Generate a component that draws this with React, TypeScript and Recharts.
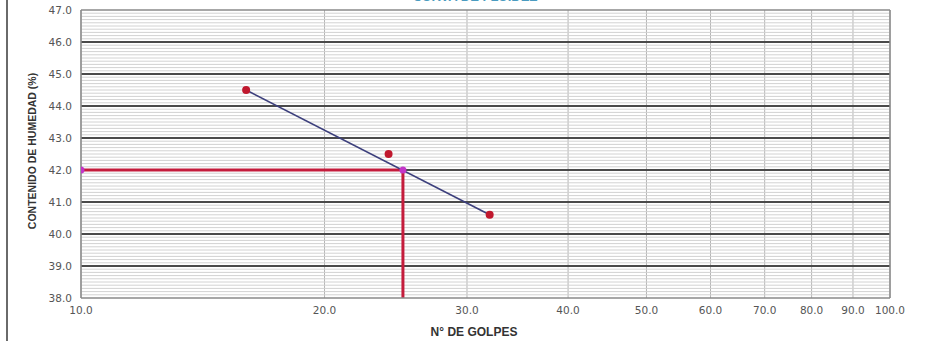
import React from "react";
import {
  ScatterChart,
  Scatter,
  XAxis,
  YAxis,
  CartesianGrid,
  ReferenceLine,
} from "recharts";

// ensayos: número de golpes vs contenido de humedad
const golpes = [16, 24, 32];
const humedad = [44.5, 42.5, 40.6];

// recta de ajuste (extremos)
const trendGolpes = [16, 32];
const trendHumedad = [44.5, 40.6];

// lectura a 25 golpes
const golpesLectura = 25;
const humedadLectura = 42.0;

const xTicks = [10, 20, 30, 40, 50, 60, 70, 80, 90, 100];
const yTicks = [38, 39, 40, 41, 42, 43, 44, 45, 46, 47];
const yMajorInner = [39, 40, 41, 42, 43, 44, 45, 46];

const points = golpes.map((x, i) => ({ x, y: humedad[i] }));
const trend = trendGolpes.map((x, i) => ({ x, y: trendHumedad[i] }));
const lectura = [
  { x: 10, y: humedadLectura },
  { x: golpesLectura, y: humedadLectura },
];

// líneas menores cada 0.1
const yMinor: number[] = [];
for (let v = 381; v < 470; v++) {
  if (v % 10 !== 0) yMinor.push(v / 10);
}

const W = 947;
const H = 341;

export default function App() {
  return (
    <div style={{ position: "absolute", left: 0, top: 0, width: W, height: H, background: "#fff" }}>
      <ScatterChart width={W} height={H} margin={{ top: 10, right: 57, bottom: 13, left: 0 }}>
        {yMinor.map((v) => (
          <ReferenceLine key={`m${v}`} y={v} stroke="#d2d2d2" strokeWidth={1} />
        ))}
        <CartesianGrid
          horizontal={false}
          verticalValues={xTicks}
          stroke="#b4b4b4"
          strokeWidth={1}
        />
        {yMajorInner.map((v) => (
          <ReferenceLine key={`M${v}`} y={v} stroke="#4a4a4a" strokeWidth={2} />
        ))}
        <ReferenceLine y={47} stroke="#8a8a8a" strokeWidth={1.5} />
        <ReferenceLine x={100} stroke="#8a8a8a" strokeWidth={1.5} />
        <XAxis
          dataKey="x"
          type="number"
          scale="log"
          domain={[10, 100]}
          ticks={xTicks}
          allowDataOverflow
          height={30}
          tickLine={false}
          tickSize={0}
          tickMargin={9}
          axisLine={{ stroke: "#8a8a8a", strokeWidth: 1.5 }}
          tickFormatter={(v: number) => v.toFixed(1)}
          tick={{ fill: "#555", fontSize: 10.5, fontFamily: "DejaVu Sans" }}
        />
        <YAxis
          dataKey="y"
          type="number"
          domain={[38, 47]}
          ticks={yTicks}
          allowDataOverflow
          width={81}
          tickLine={false}
          tickSize={0}
          tickMargin={9}
          axisLine={{ stroke: "#8a8a8a", strokeWidth: 1.5 }}
          tickFormatter={(v: number) => v.toFixed(1)}
          tick={{ fill: "#555", fontSize: 10.5, fontFamily: "DejaVu Sans" }}
        />
        <ReferenceLine
          segment={[
            { x: 10, y: humedadLectura },
            { x: golpesLectura, y: humedadLectura },
          ]}
          stroke="#c41c3c"
          strokeWidth={3}
        />
        <ReferenceLine
          segment={[
            { x: golpesLectura, y: humedadLectura },
            { x: golpesLectura, y: 38 },
          ]}
          stroke="#c41c3c"
          strokeWidth={3}
        />
        <Scatter
          data={trend}
          isAnimationActive={false}
          line={{ stroke: "#3c3f7c", strokeWidth: 1.6 }}
          shape={() => <g />}
        />
        <Scatter
          data={points}
          isAnimationActive={false}
          shape={(p: any) => <circle cx={p.cx} cy={p.cy} r={4} fill="#c0182e" />}
        />
        <Scatter
          data={lectura}
          isAnimationActive={false}
          shape={(p: any) => <circle cx={p.cx} cy={p.cy} r={3.5} fill="#c236c8" />}
        />
      </ScatterChart>
      <div
        style={{
          position: "absolute",
          left: 6,
          top: 0,
          width: 2,
          height: H,
          background: "#6a6a6a",
        }}
      />
      <div
        style={{
          position: "absolute",
          left: 475,
          top: -11,
          transform: "translateX(-50%)",
          font: "bold 13px 'Liberation Sans', Arial, sans-serif",
          color: "#4a9bc0",
          whiteSpace: "nowrap",
        }}
      >
        CURVA DE FLUIDEZ
      </div>
      <div
        style={{
          position: "absolute",
          left: 32,
          top: 151,
          transform: "translate(-50%, -50%) rotate(-90deg)",
          font: "bold 10.5px 'Liberation Sans', Arial, sans-serif",
          color: "#333",
          whiteSpace: "nowrap",
        }}
      >
        CONTENIDO DE HUMEDAD (%)
      </div>
      <div
        style={{
          position: "absolute",
          left: 474,
          top: 332,
          transform: "translate(-50%, -50%)",
          font: "bold 12px 'Liberation Sans', Arial, sans-serif",
          color: "#333",
          whiteSpace: "nowrap",
        }}
      >
        N° DE GOLPES
      </div>
    </div>
  );
}
